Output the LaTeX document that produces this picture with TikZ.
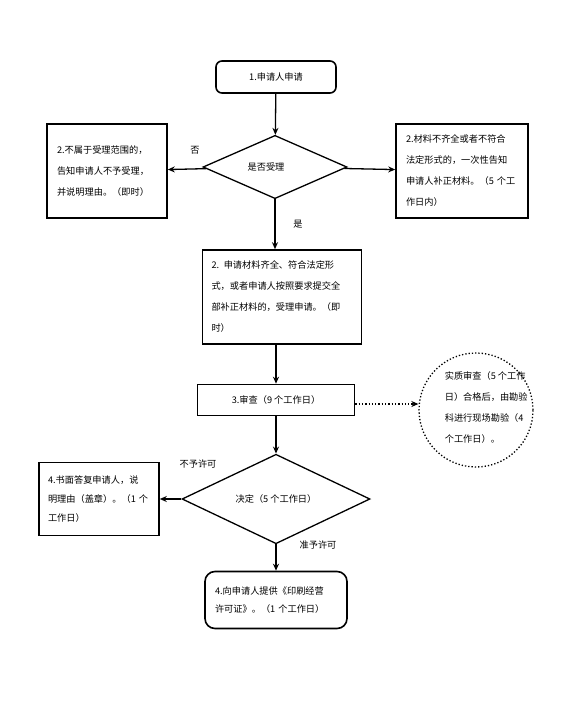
\documentclass[tikz,border=0pt]{standalone}
\usepackage{fontspec}
\newfontfamily\cjk{Noto Sans CJK SC}
\usetikzlibrary{shapes.geometric,arrows.meta}
\tikzset{
  box/.style={draw,line width=1.6pt,align=left,inner sep=0pt,
    font=\cjk\fontsize{9.2}{21}\selectfont},
  choice/.style={draw,diamond,line width=1.3pt,inner sep=0pt,
    font=\cjk\fontsize{9.2}{21}\selectfont},
  flow/.style={line width=1.3pt,-{Stealth[length=7pt,width=6pt]}},
  tag/.style={font=\cjk\fontsize{9.2}{10}\selectfont}
}
\begin{document}
\begin{tikzpicture}
      [x=1pt,y=-1pt]
      \useasboundingbox (0,0) rectangle (576,718);
      \node[box,rounded corners=6pt,minimum width=120pt,minimum height=32pt,align=center] (apply) at (276,77) {1.申请人申请};
      \node[choice,minimum width=144pt,minimum height=62pt] (accept) at (275,167) {是否受理\hspace*{18pt}};
      \node[box,minimum width=120pt,minimum height=94pt,text width=100pt] (reject) at (107,171)
        {2.不属于受理范围的，\\告知申请人不予受理，\\并说明理由。（即时）};
      \node[box,minimum width=132pt,minimum height=94pt,text width=112pt] (supply) at (462,171)
        {2.材料不齐全或者不符合\\法定形式的，一次性告知\\申请人补正材料。（5 个工\\作日内）};
      \node[box,minimum width=159pt,minimum height=94pt,text width=141pt] (receive) at (282,297)
        {2. 申请材料齐全、符合法定形\\式，或者申请人按照要求提交全\\部补正材料的，受理申请。（即\\时）};
      \node[box,minimum width=157pt,minimum height=31pt,align=center] (review) at (276,400) {3.审查（9 个工作日）};
      \node[draw,circle,line width=1.3pt,dotted,minimum size=114pt] (site) at (476,410) {};
      \node[box,draw=none,anchor=west] (sitenote) at (444,407)
        {实质审查（5 个工作\\日）合格后，由勘验\\科进行现场勘验（4\\个工作日）。};
      \node[choice,minimum width=188pt,minimum height=62pt] (decide) at (276,499) {决定（5 个工作日）};
      \node[box,minimum width=120pt,minimum height=73pt,text width=102pt,
        font=\cjk\fontsize{9.2}{19}\selectfont] (answer) at (99,499)
        {4.书面答复申请人，说\\明理由（盖章）。（1 个\\工作日）};
      \node[box,rounded corners=10pt,minimum width=142pt,minimum height=57pt,text width=122pt,
        font=\cjk\fontsize{9.2}{18}\selectfont] (license) at (276,600)
        {4.向申请人提供《印刷经营\\许可证》。（1 个工作日）};
      \node[tag] at (195,150) {否};
      \node[tag] at (298,224) {是};
      \node[tag] at (198,464) {不予许可};
      \node[tag] at (318,545) {准予许可};
      \draw[flow] (apply) -- (accept);
      \draw[flow] (accept) -- (reject);
      \draw[flow] (accept) -- (supply);
      \draw[flow] (accept.south) -- (accept.south |- receive.north);
      \draw[flow] (receive.south -| review.north) -- (review.north);
      \draw[flow,dotted] ([yshift=-4pt]review.east) -- ([yshift=-4pt]review.east -| site.west);
      \draw[flow] (review) -- (decide);
      \draw[flow] (decide) -- (answer);
      \draw[flow] (decide) -- (license);
\end{tikzpicture}
\end{document}
